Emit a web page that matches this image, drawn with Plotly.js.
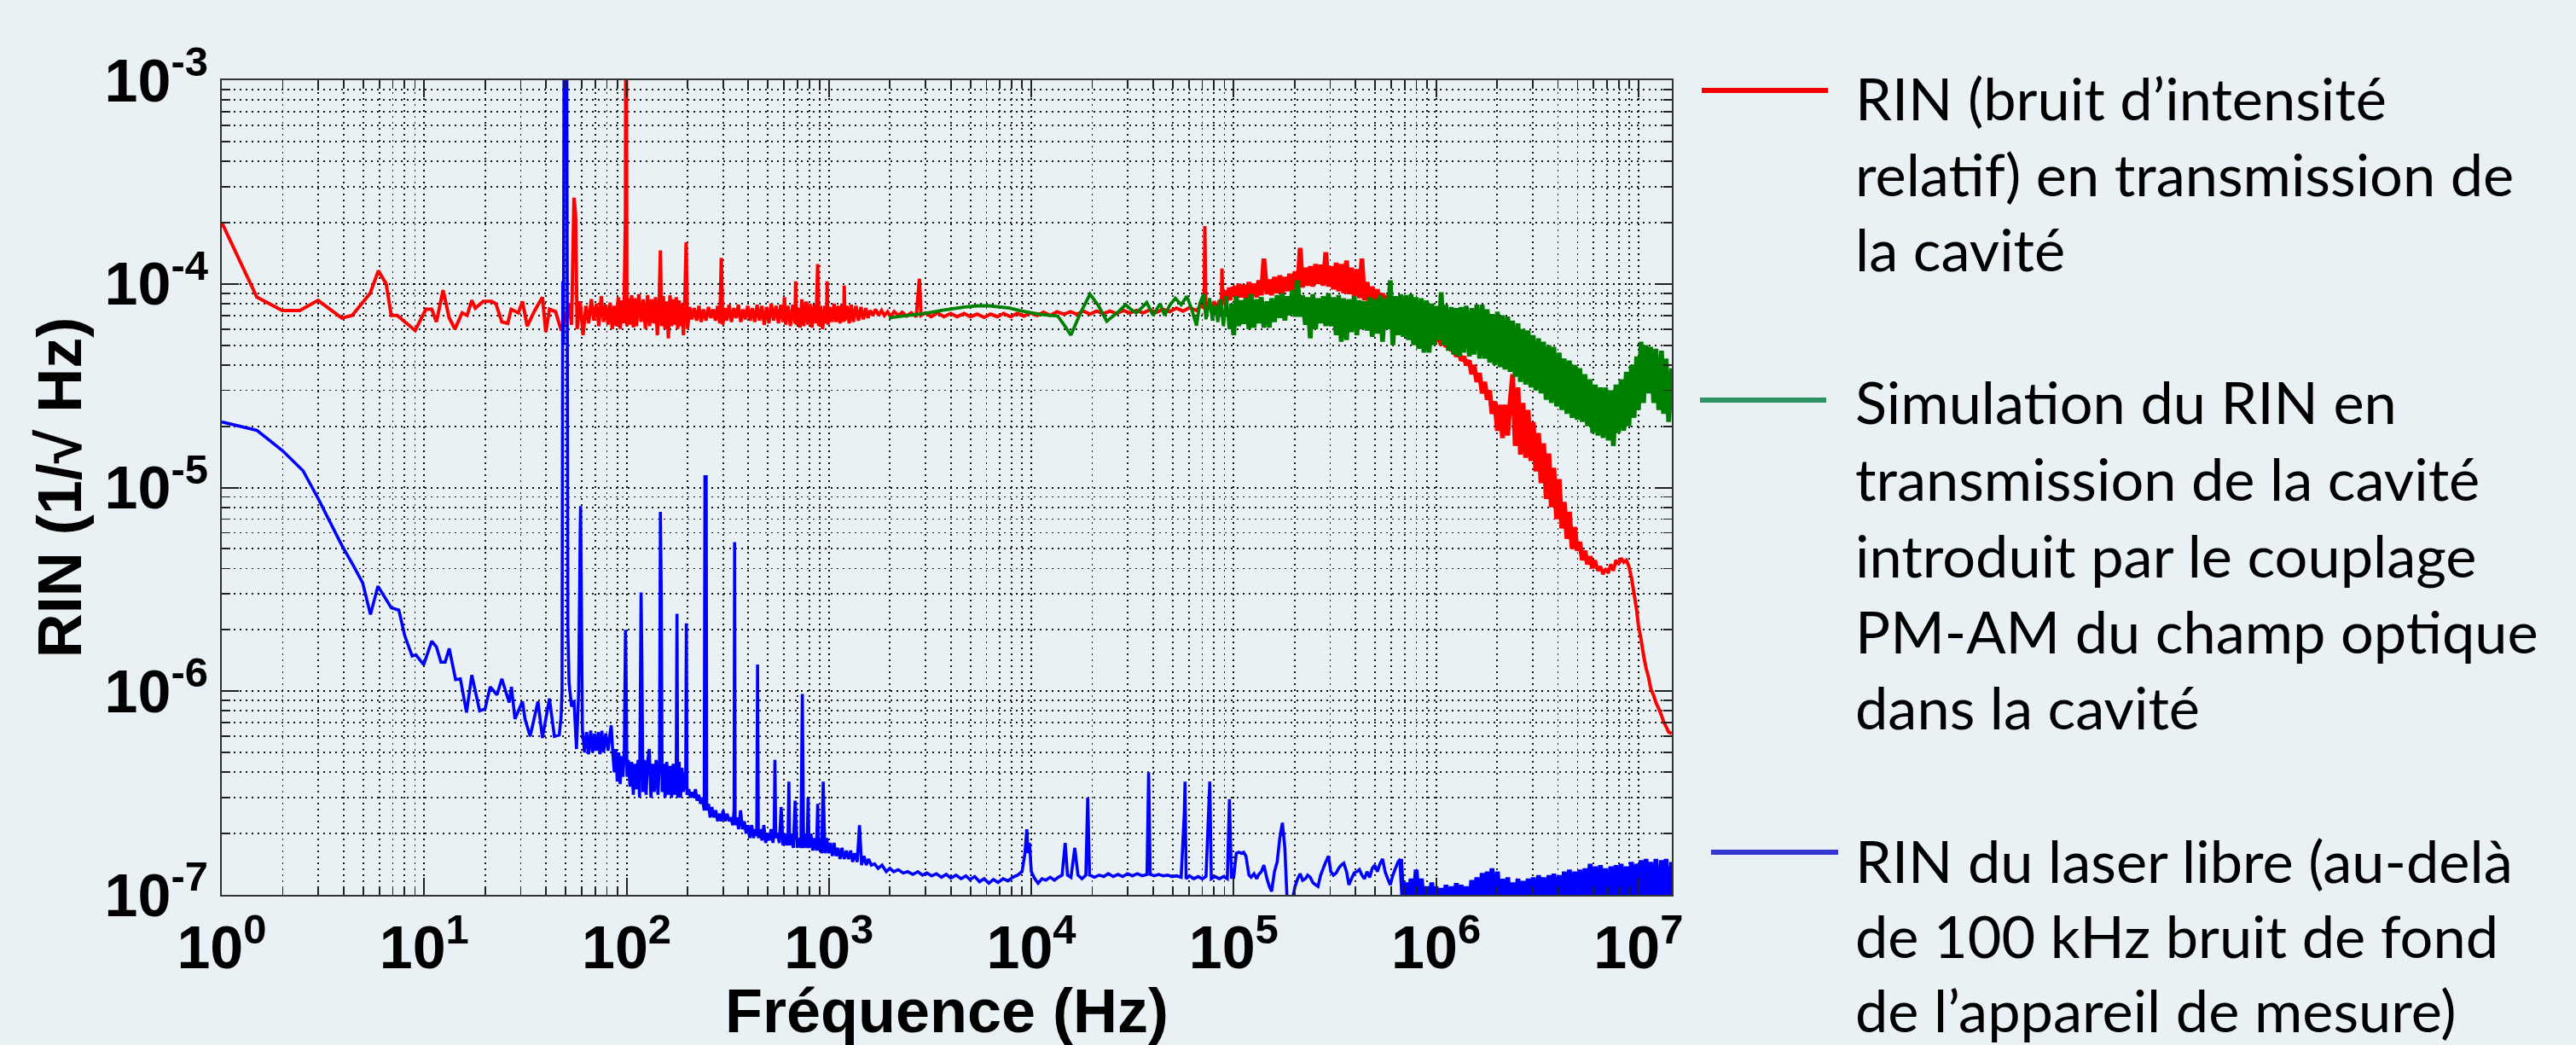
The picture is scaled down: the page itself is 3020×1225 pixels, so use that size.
<!DOCTYPE html>
<html>
<head>
<meta charset="utf-8">
<script src="https://cdn.plot.ly/plotly-3.0.1.min.js"></script>
<style>
html,body{margin:0;padding:0;background:#EAF1F5;}
#chart{width:3020px;height:1225px;}
</style>
</head>
<body>
<div id="chart"></div>
<script>
// ---------- axis ticks ----------
const xTickVals = [1, 10, 100, 1e3, 1e4, 1e5, 1e6, 1e7];
const xTickText = ['10<sup>0</sup>','10<sup>1</sup>','10<sup>2</sup>','10<sup>3</sup>','10<sup>4</sup>','10<sup>5</sup>','10<sup>6</sup>','10<sup>7</sup>'];
const yTickVals = [1e-7, 1e-6, 1e-5, 1e-4, 1e-3];
const yTickText = ['10<sup>-7</sup>','10<sup>-6</sup>','10<sup>-5</sup>','10<sup>-4</sup>','10<sup>-3</sup>'];

// ---------- series names / legend text ----------
const seriesNames = ['RIN en transmission de la cavité', 'Simulation du RIN', 'RIN du laser libre'];
const legendRed = ['RIN (bruit d’intensité', 'relatif) en transmission de', 'la cavité'];
const legendGreen = ['Simulation du RIN en', 'transmission de la cavité', 'introduit par le couplage', 'PM-AM du champ optique', 'dans la cavité'];
const legendBlue = ['RIN du laser libre (au-delà', 'de 100 kHz bruit de fond', 'de l’appareil de mesure)'];

// ---------- red : measured RIN in transmission, below 100 kHz [Hz, 1/sqrt(Hz)] ----------
const redLow = [[1,2.0e-4],[1.49,8.6e-5],[1.99,7.4e-5],[2.43,7.4e-5],[2.99,8.3e-5],[3.92,6.8e-5],[4.41,7.0e-5],[5.41,9.0e-5],[5.94,1.16e-4],[6.49,1.0e-4],[6.88,7.0e-5],[7.36,7.0e-5],[9.03,5.9e-5],[10.2,7.5e-5],[10.9,7.5e-5],[11.5,6.5e-5],[12.4,9.3e-5],[13.3,6.8e-5],[14.2,6.0e-5],[15.4,7.2e-5],[16.3,7.0e-5],[17.2,8.3e-5],[17.9,7.6e-5],[19.6,8.2e-5],[21.5,8.2e-5],[22.6,8.0e-5],[24.2,6.5e-5],[25.9,6.4e-5],[26.9,7.5e-5],[29.2,7.2e-5],[30.6,8.2e-5],[32.3,6.2e-5],[35.2,7.4e-5],[38.4,8.6e-5],[39.9,5.8e-5],[41.6,7.5e-5],[44.6,7.3e-5],[47.6,5.9e-5],
[48.5,6.2e-5],[52,8.0e-5],[53.5,6.3e-5],[55,2.65e-4],[56,2.2e-4],[57,6.0e-5],[59,8.2e-5],[61,5.6e-5],[63,7.8e-5],[65,6.4e-5],[67,8.4e-5],[69,6.6e-5],[71,8.0e-5],[73,6.2e-5],[75,8.7e-5],[77,6.5e-5],[79,7.9e-5],[81,6.3e-5],[83,8.1e-5],[85,6.0e-5],[87,7.8e-5],[89,6.2e-5],[91,8.6e-5],[93,6.0e-5],[95,8.3e-5],[97,6.4e-5],[98.8,2.2e-4],[99.2,2.0e-3],[99.8,2.0e-3],[100.4,6.2e-5],[102,8.5e-5],[104,6.3e-5],[106,8.8e-5],[108,6.1e-5],[110,8.5e-5],[112,6.2e-5],[115,8.9e-5],[118,6.5e-5],[121,8.4e-5],[124,6.0e-5],[127,8.8e-5],[130,6.2e-5],[133,8.4e-5],[136,6.4e-5],[139,8.6e-5],[142,5.6e-5],[145,8.2e-5],[147,1.46e-4],[149,6.2e-5],[152,8.7e-5],[155,6.0e-5],[158,8.2e-5],[161,5.4e-5],[164,8.8e-5],[167,6.2e-5],[170,8.4e-5],[173,6.3e-5],[176,8.6e-5],[179,6.0e-5],[182,8.3e-5],[185,6.2e-5],[188,8.0e-5],[191,5.6e-5],[194,8.2e-5],[197,1.6e-4],
[200,6.0e-5],[205,7.7e-5],[210,6.7e-5],[216,7.6e-5],[222,6.6e-5],[228,7.8e-5],[234,6.5e-5],[240,7.5e-5],[247,6.6e-5],[254,7.7e-5],[261,6.8e-5],[268,7.5e-5],[275,6.6e-5],[282,7.8e-5],[289,6.4e-5],[294,1.34e-4],[299,6.3e-5],[306,7.6e-5],[313,6.6e-5],[321,7.9e-5],[330,6.5e-5],[339,7.6e-5],[348,6.8e-5],[357,7.9e-5],[367,6.5e-5],[377,7.5e-5],[387,6.7e-5],[397,7.8e-5],[408,6.6e-5],[419,7.6e-5],[430,6.5e-5],[442,7.9e-5],[454,6.6e-5],[466,7.8e-5],[479,6.3e-5],[492,7.7e-5],[505,6.4e-5],[519,8.0e-5],[533,6.6e-5],[548,7.8e-5],[563,6.4e-5],[578,7.9e-5],[594,6.5e-5],[603,8.6e-5],[612,6.3e-5],[628,7.8e-5],[645,6.2e-5],[663,7.9e-5],[680,6.4e-5],[685,1.03e-4],[690,6.3e-5],[705,7.6e-5],[720,6.1e-5],[735,8.4e-5],[752,6.2e-5],[770,8.2e-5],[788,6.3e-5],[806,8.0e-5],[825,6.1e-5],[845,7.9e-5],[865,6.4e-5],[880,1.25e-4],[890,6.2e-5],[910,7.8e-5],[930,6.0e-5],[955,7.8e-5],[975,6.4e-5],[980,1.03e-4],[990,6.3e-5],[1010,7.7e-5],[1035,6.5e-5],[1060,8.0e-5],[1085,6.5e-5],[1110,7.8e-5],[1135,6.4e-5],[1160,8.0e-5],[1185,6.5e-5],[1190,9.8e-5],[1200,6.6e-5],[1230,7.8e-5],[1260,6.4e-5],[1290,7.9e-5],[1320,6.5e-5],[1360,7.8e-5],[1400,6.6e-5],[1440,7.7e-5],[1480,6.7e-5],[1520,7.6e-5],[1560,6.8e-5],
[1600,7.4e-5],[1650,7.0e-5],[1700,7.5e-5],[1760,7.0e-5],[1820,7.4e-5],[1880,7.0e-5],[1950,7.3e-5],[2020,6.9e-5],[2100,7.3e-5],[2200,7.0e-5],[2300,7.25e-5],[2420,6.95e-5],[2550,7.2e-5],[2700,6.9e-5],[2800,1.06e-4],[2850,7.0e-5],[3000,7.2e-5],[3200,6.9e-5],[3450,7.2e-5],[3700,6.9e-5],[4000,7.15e-5],[4300,6.9e-5],[4650,7.15e-5],[5000,6.9e-5],[5400,7.1e-5],[5850,6.85e-5],[6300,7.1e-5],[6800,6.9e-5],[7300,7.15e-5],[7900,6.9e-5],[8500,7.15e-5],[9200,6.95e-5],[9900,7.2e-5],[10700,7.0e-5],[11500,7.25e-5],[12400,7.0e-5],[13400,7.3e-5],[14500,7.1e-5],[15600,7.3e-5],[16800,7.1e-5],[18100,7.35e-5],[19500,7.1e-5],[21000,7.35e-5],[22700,7.15e-5],[24500,7.35e-5],[26400,7.15e-5],[28500,7.4e-5],[30700,7.2e-5],[33100,7.4e-5],[35700,7.2e-5],[38500,7.45e-5],[41500,7.25e-5],[44800,7.5e-5],[48300,7.3e-5],[52100,7.6e-5],[56200,7.35e-5],[60600,7.65e-5],[65300,7.4e-5],[69000,7.8e-5],[71500,7.6e-5],[72000,1.92e-4],[72800,7.7e-5],[75000,8.1e-5],[77500,7.5e-5],[80000,8.2e-5],[82500,7.6e-5],[85000,8.3e-5],[87000,7.7e-5],[87500,1.19e-4],[88500,7.9e-5],[90500,9.3e-5],[92500,8.1e-5],[94500,9.6e-5],[96500,8.3e-5],[98500,9.7e-5]];

// ---------- green : simulated RIN, below 100 kHz ----------
const greenLow = [[1980,6.8e-5],[2200,6.9e-5],[2500,7.0e-5],[2800,7.1e-5],[3200,7.25e-5],[3600,7.4e-5],[4100,7.55e-5],[4700,7.7e-5],[5400,7.8e-5],[6200,7.8e-5],[7000,7.7e-5],[7800,7.6e-5],[8700,7.4e-5],[9700,7.25e-5],[11000,7.1e-5],[12300,7.0e-5],[13500,6.95e-5],[14500,6.3e-5],[15700,5.6e-5],[17500,7.2e-5],[19500,8.9e-5],[21500,7.8e-5],[23600,6.55e-5],[26500,7.2e-5],[29300,7.9e-5],[31000,7.5e-5],[33000,7.2e-5],[35000,7.6e-5],[37200,8.1e-5],[40000,7.0e-5],[43300,8.0e-5],[45600,7.0e-5],[48500,7.9e-5],[51500,8.5e-5],[55000,7.9e-5],[58700,8.7e-5],[62000,7.5e-5],[65500,6.24e-5],[68000,8.0e-5],[71000,8.9e-5],[73000,6.7e-5],[76000,8.5e-5],[78500,6.6e-5],[81000,7.9e-5],[83500,6.5e-5],[86000,8.4e-5],[89000,6.2e-5],[92000,8.7e-5],[95000,6.0e-5],[97500,8.0e-5]];

// ---------- blue : free-running laser RIN, below 100 kHz ----------
const blueLow = [[1,2.1e-5],[1.49,1.91e-5],[1.99,1.52e-5],[2.52,1.21e-5],[2.99,8.85e-6],[3.92,5.2e-6],[4.49,4.1e-6],[4.97,3.4e-6],[5.43,2.38e-6],[5.91,3.28e-6],[6.88,2.57e-6],[7.5,2.5e-6],[8.02,1.87e-6],[8.72,1.49e-6],[9.1,1.51e-6],[9.95,1.35e-6],[10.9,1.76e-6],[11.5,1.65e-6],[12.1,1.39e-6],[12.7,1.39e-6],[13.3,1.62e-6],[14.3,1.14e-6],[15.1,1.15e-6],[16.2,7.86e-7],[17.2,1.2e-6],[18.8,8.0e-7],[20,8.2e-7],[21.2,1.05e-6],[22.9,9.6e-7],[24.2,1.15e-6],[26.3,8.8e-7],[27,1.05e-6],[28.1,7.3e-7],[30.6,8.9e-7],[31.5,7.3e-7],[33.4,6.0e-7],[36.5,8.9e-7],[38.4,5.9e-7],[41.6,9.2e-7],[44,6.0e-7],[46.5,6.1e-7],[47.5,7.5e-7],[48,1.0e-6],[48.4,1.03e-4],[48.8,5.0e-5],[49.2,3.0e-3],[50.6,3.0e-3],[51.3,2.0e-6],[52,1.1e-6],[53.5,8.4e-7],[55,9.0e-7],[56.6,5.2e-7],[58,1.0e-6],[59,6.0e-6],[59.3,8.1e-6],[59.8,3.0e-6],[60.5,6.5e-7],[62,5.0e-7],[63.5,6.3e-7],[65,4.9e-7],[66.5,6.4e-7],[68,5.0e-7],[69.5,6.2e-7],[71,5.1e-7],[72.5,6.3e-7],[74,4.9e-7],[75.5,6.4e-7],[77,5.0e-7],[79,6.2e-7],[81,5.1e-7],[82.5,6.0e-7],[84,6.8e-7],[85.5,5.0e-7],[87,4.0e-7],[88.5,5.2e-7],[90,3.6e-7],[91.5,5.0e-7],[93,3.5e-7],[94.5,4.8e-7],[96,3.8e-7],[97.5,5.0e-7],[98.8,2.0e-6],[99.5,1.2e-6],[100.5,3.8e-7],[102,4.6e-7],[104,3.4e-7],[106,4.5e-7],[108,3.1e-7],[110,4.4e-7],[112,3.3e-7],[114,4.6e-7],[116,3.0e-7],[118,3.05e-6],[119,1.5e-6],[120.5,3.2e-7],[122.5,4.6e-7],[125,3.1e-7],[127,4.5e-7],[129.5,5.2e-7],[132,3.0e-7],[134.5,4.4e-7],[137,3.2e-7],[140,4.6e-7],[143,3.1e-7],[145.5,4.5e-7],[147,7.6e-6],[148.5,3.0e-6],[150,3.2e-7],[152.5,4.4e-7],[155,3.0e-7],[158,4.5e-7],[161,3.1e-7],[164,4.3e-7],[167,3.0e-7],[170,4.4e-7],[173,3.1e-7],[176,4.0e-7],[177.5,2.4e-6],[179,3.0e-7],[182,4.5e-7],[185,3.0e-7],[188,4.2e-7],[191,3.2e-7],[194,4.0e-7],[196,3.3e-7],[197.5,2.15e-6],[199,3.1e-7],[203,3.3e-7],[207,3.0e-7],[211,3.2e-7],[215,3.0e-7],[219,3.3e-7],[223,2.9e-7],[227,3.1e-7],[232,2.8e-7],[237,3.0e-7],[242,2.6e-7],[244,1.15e-5],[246,3.0e-6],[247.5,1.15e-5],[249,2.6e-7],[254,2.8e-7],[259,2.4e-7],[264,2.7e-7],[270,2.4e-7],[276,2.6e-7],[282,2.3e-7],[288,2.5e-7],[294,2.3e-7],[300,2.6e-7],[307,2.3e-7],[314,2.5e-7],[321,2.3e-7],[328,2.4e-7],[335,2.2e-7],[340,2.6e-7],[342,5.4e-6],[344,2.2e-7],[350,2.4e-7],[358,2.1e-7],[366,2.6e-7],[374,2.1e-7],[382,2.3e-7],[390,2.0e-7],[398,2.2e-7],[406,1.9e-7],[415,2.2e-7],[424,1.9e-7],[433,2.1e-7],[440,1.95e-7],[444,1.35e-6],[448,1.9e-7],[457,2.1e-7],[467,1.85e-7],[477,2.2e-7],[487,1.8e-7],[497,2.0e-7],[507,1.85e-7],[518,2.1e-7],[529,1.8e-7],[536,2.0e-7],[541,4.6e-7],[546,1.9e-7],[557,2.0e-7],[569,1.8e-7],[581,2.7e-7],[593,1.75e-7],[605,2.0e-7],[618,1.75e-7],[628,1.9e-7],[634,3.6e-7],[640,1.75e-7],[653,2.0e-7],[667,1.7e-7],[681,2.9e-7],[697,1.7e-7],[712,1.9e-7],[727,1.7e-7],[739,9.7e-7],[750,1.7e-7],[765,2.0e-7],[780,1.7e-7],[789,3.0e-7],[798,1.7e-7],[815,2.0e-7],[832,1.65e-7],[850,1.9e-7],[868,1.65e-7],[880,2.8e-7],[890,1.65e-7],[905,1.9e-7],[920,1.6e-7],[937,3.6e-7],[955,1.6e-7],[975,1.9e-7],[995,1.6e-7],[1015,1.8e-7],[1040,1.55e-7],[1060,1.8e-7],[1085,1.55e-7],[1110,1.7e-7],[1135,1.5e-7],[1160,1.7e-7],[1190,1.5e-7],[1220,1.65e-7],[1250,1.5e-7],[1280,1.65e-7],[1310,1.45e-7],[1340,1.6e-7],[1380,1.45e-7],[1416,2.2e-7],[1450,1.4e-7],[1490,1.55e-7],[1530,1.4e-7],[1570,1.5e-7],[1620,1.4e-7],[1680,1.42e-7],[1750,1.35e-7],[1830,1.4e-7],[1920,1.3e-7],[2000,1.35e-7],[2090,1.3e-7],[2200,1.33e-7],[2330,1.28e-7],[2450,1.3e-7],[2600,1.26e-7],[2750,1.3e-7],[2900,1.25e-7],[3050,1.28e-7],[3220,1.24e-7],[3400,1.27e-7],[3600,1.22e-7],[3800,1.26e-7],[4000,1.21e-7],[4250,1.25e-7],[4500,1.2e-7],[4750,1.24e-7],[4970,1.19e-7],[5250,1.23e-7],[5550,1.16e-7],[5850,1.2e-7],[6170,1.14e-7],[6500,1.19e-7],[6850,1.15e-7],[7250,1.2e-7],[7670,1.17e-7],[8100,1.22e-7],[8550,1.25e-7],[9000,1.3e-7],[9300,1.6e-7],[9500,2.1e-7],[9650,1.6e-7],[9800,1.8e-7],[10000,1.3e-7],[10400,1.2e-7],[10800,1.14e-7],[11300,1.2e-7],[11800,1.18e-7],[12400,1.22e-7],[13000,1.18e-7],[13600,1.22e-7],[14200,1.25e-7],[14700,1.8e-7],[15100,1.25e-7],[15700,1.22e-7],[16400,1.7e-7],[17000,1.25e-7],[17800,1.2e-7],[18600,1.25e-7],[19000,3.0e-7],[19400,1.25e-7],[20500,1.22e-7],[21600,1.25e-7],[22800,1.23e-7],[24000,1.27e-7],[25400,1.23e-7],[26800,1.26e-7],[28300,1.23e-7],[29900,1.27e-7],[31600,1.24e-7],[33400,1.27e-7],[35300,1.24e-7],[37300,1.26e-7],[38000,4.0e-7],[38700,1.26e-7],[40500,1.24e-7],[42600,1.26e-7],[44800,1.24e-7],[47100,1.25e-7],[49600,1.23e-7],[52200,1.24e-7],[55000,1.22e-7],[57000,2.5e-7],[57500,3.6e-7],[58200,1.2e-7],[60500,1.24e-7],[63500,1.2e-7],[66700,1.23e-7],[70000,1.2e-7],[73000,1.23e-7],[76200,3.6e-7],[77500,1.2e-7],[81000,1.23e-7],[85000,1.2e-7],[89000,1.23e-7],[93000,1.2e-7],[95300,2.95e-7],[97500,1.22e-7]];

// ---------- common analyser frequency grid above 100 kHz [Hz] ----------
const fHi = [1.00e5,1.03e5,1.06e5,1.09e5,1.12e5,1.15e5,1.19e5,1.22e5,1.26e5,1.30e5,1.33e5,1.37e5,1.41e5,1.46e5,1.50e5,1.54e5,1.59e5,1.64e5,1.69e5,1.74e5,1.79e5,1.84e5,1.89e5,1.95e5,2.01e5,2.07e5,2.13e5,2.19e5,2.26e5,2.32e5,2.39e5,2.46e5,2.54e5,2.61e5,2.69e5,2.77e5,2.85e5,2.94e5,3.02e5,3.11e5,3.21e5,3.30e5,3.40e5,3.50e5,3.61e5,3.71e5,3.82e5,3.94e5,4.06e5,4.18e5,4.30e5,4.43e5,4.56e5,4.70e5,4.84e5,4.98e5,5.13e5,5.28e5,5.44e5,5.60e5,5.77e5,5.94e5,6.12e5,6.30e5,6.49e5,6.68e5,6.88e5,7.09e5,7.30e5,7.52e5,7.74e5,7.97e5,8.21e5,8.46e5,8.71e5,8.97e5,9.24e5,9.52e5,9.80e5,
1.00e6,1.03e6,1.06e6,1.09e6,1.12e6,1.15e6,1.19e6,1.22e6,1.26e6,1.30e6,1.33e6,1.37e6,1.41e6,1.46e6,1.50e6,1.54e6,1.59e6,1.64e6,1.69e6,1.74e6,1.79e6,1.84e6,1.89e6,1.95e6,2.01e6,2.07e6,2.13e6,2.19e6,2.26e6,2.32e6,2.39e6,2.46e6,2.54e6,2.61e6,2.69e6,2.77e6,2.85e6,2.94e6,3.02e6,3.11e6,3.21e6,3.30e6,3.40e6,3.50e6,3.61e6,3.71e6,3.82e6,3.94e6,4.06e6,4.18e6,4.30e6,4.43e6,4.56e6,4.70e6,4.84e6,4.98e6,5.13e6,5.28e6,5.44e6,5.60e6,5.77e6,5.94e6,6.12e6,6.30e6,6.49e6,6.68e6,6.88e6,7.09e6,7.30e6,7.52e6,7.74e6,7.97e6,8.21e6,8.46e6,8.71e6,8.97e6,9.24e6,9.52e6,9.80e6,
1.00e7,1.03e7,1.06e7,1.09e7,1.12e7,1.15e7,1.19e7,1.22e7,1.26e7,1.30e7,1.33e7,1.37e7,1.41e7,1.46e7];

const redHiV = [9.6e-5,8.5e-5,1.0e-4,8.6e-5,9.9e-5,8.4e-5,1.02e-4,8.7e-5,1.0e-4,8.6e-5,
1.04e-4,8.8e-5,1.33e-4,8.9e-5,1.05e-4,8.8e-5,1.08e-4,9.0e-5,1.1e-4,9.0e-5,
1.08e-4,9.2e-5,1.12e-4,9.3e-5,1.15e-4,9.5e-5,1.5e-4,9.6e-5,1.2e-4,9.8e-5,
1.22e-4,9.7e-5,1.25e-4,1.0e-4,1.24e-4,9.8e-5,1.43e-4,9.7e-5,1.22e-4,9.4e-5,
1.27e-4,9.2e-5,1.25e-4,9.0e-5,1.3e-4,8.9e-5,1.2e-4,8.7e-5,1.18e-4,8.5e-5,
1.33e-4,8.3e-5,1.02e-4,8.1e-5,9.7e-5,7.9e-5,9.4e-5,7.6e-5,9.0e-5,7.4e-5,
8.8e-5,7.2e-5,8.6e-5,7.0e-5,8.0e-5,6.6e-5,7.6e-5,6.3e-5,7.2e-5,6.1e-5,
6.9e-5,5.9e-5,6.6e-5,5.7e-5,6.3e-5,5.5e-5,6.1e-5,5.3e-5,5.9e-5,
5.2e-5,5.6e-5,5.0e-5,5.4e-5,4.9e-5,5.2e-5,4.7e-5,4.9e-5,4.4e-5,4.7e-5,
4.2e-5,4.4e-5,4.0e-5,4.2e-5,3.6e-5,4.0e-5,3.3e-5,3.65e-5,2.9e-5,3.3e-5,
2.7e-5,3.0e-5,2.3e-5,2.65e-5,1.9e-5,2.55e-5,1.75e-5,2.55e-5,1.8e-5,2.6e-5,
3.6e-5,1.6e-5,3.1e-5,1.45e-5,2.6e-5,1.4e-5,2.4e-5,1.35e-5,2.1e-5,1.2e-5,
1.85e-5,1.05e-5,1.65e-5,8.8e-6,1.47e-5,8.0e-6,1.25e-5,7.0e-6,1.1e-5,6.3e-6,
8.5e-6,5.6e-6,7.6e-6,5.0e-6,6.4e-6,4.9e-6,5.4e-6,4.4e-6,4.9e-6,4.2e-6,
4.6e-6,4.0e-6,4.4e-6,3.9e-6,4.1e-6,3.75e-6,4.0e-6,3.8e-6,4.2e-6,3.9e-6,
4.4e-6,4.2e-6,4.5e-6,4.3e-6,4.4e-6,4.1e-6,3.6e-6,3.0e-6,2.5e-6,2.1e-6,
1.8e-6,1.5e-6,1.3e-6,1.18e-6,1.03e-6,9.5e-7,8.8e-7,8.2e-7,7.6e-7,7.1e-7,
6.7e-7,6.3e-7,6.2e-7];

const greenHiV = [5.6e-5,8.7e-5,6.2e-5,8.3e-5,6.35e-5,8.5e-5,6.0e-5,8.9e-5,6.1e-5,8.4e-5,
6.4e-5,8.6e-5,6.1e-5,8.2e-5,6.1e-5,8.5e-5,6.5e-5,8.8e-5,6.8e-5,9.0e-5,
6.6e-5,8.7e-5,7.0e-5,9.3e-5,6.9e-5,1.04e-4,6.9e-5,8.8e-5,6.3e-5,8.6e-5,
5.4e-5,8.9e-5,6.0e-5,8.5e-5,6.4e-5,8.7e-5,6.2e-5,9.0e-5,6.2e-5,8.6e-5,
5.6e-5,8.8e-5,5.2e-5,8.5e-5,5.3e-5,8.4e-5,5.8e-5,8.7e-5,5.6e-5,8.3e-5,
6.0e-5,8.2e-5,5.9e-5,8.6e-5,5.5e-5,8.4e-5,5.7e-5,8.8e-5,5.2e-5,8.5e-5,
6.0e-5,1.04e-4,5.0e-5,8.7e-5,5.6e-5,8.9e-5,5.5e-5,8.8e-5,5.3e-5,8.9e-5,
5.0e-5,8.6e-5,4.8e-5,8.5e-5,4.6e-5,8.3e-5,4.6e-5,8.0e-5,5.0e-5,
7.8e-5,5.3e-5,9.1e-5,5.0e-5,7.9e-5,4.7e-5,7.7e-5,4.5e-5,7.6e-5,4.4e-5,
7.7e-5,4.6e-5,7.8e-5,4.4e-5,7.6e-5,4.5e-5,7.9e-5,4.3e-5,7.9e-5,4.3e-5,
7.5e-5,4.1e-5,7.1e-5,4.0e-5,7.3e-5,3.9e-5,7.0e-5,3.8e-5,6.9e-5,3.7e-5,
6.6e-5,3.5e-5,6.4e-5,3.3e-5,6.0e-5,3.2e-5,5.9e-5,3.1e-5,5.6e-5,3.0e-5,
5.4e-5,2.9e-5,5.2e-5,2.7e-5,5.0e-5,2.6e-5,4.9e-5,2.5e-5,4.6e-5,2.4e-5,
4.3e-5,2.3e-5,4.2e-5,2.2e-5,4.0e-5,2.15e-5,3.85e-5,2.1e-5,3.6e-5,2.0e-5,
3.4e-5,1.85e-5,3.2e-5,1.8e-5,3.1e-5,1.75e-5,3.1e-5,1.7e-5,3.0e-5,1.6e-5,
3.2e-5,1.85e-5,3.4e-5,1.9e-5,3.7e-5,2.0e-5,4.0e-5,2.2e-5,4.4e-5,2.4e-5,
5.2e-5,2.6e-5,5.0e-5,2.9e-5,4.9e-5,2.6e-5,4.8e-5,2.4e-5,4.7e-5,2.3e-5,
4.3e-5,2.1e-5,3.85e-5];

const blueHiV = [1.22e-7,1.6e-7,1.62e-7,1.6e-7,1.62e-7,1.55e-7,1.25e-7,1.22e-7,1.27e-7,1.2e-7,
1.26e-7,1.3e-7,1.4e-7,1.2e-7,1.1e-7,1.04e-7,1.3e-7,1.45e-7,1.9e-7,2.26e-7,
1.7e-7,9.0e-8,8.5e-8,9.5e-8,1.1e-7,1.2e-7,1.27e-7,1.18e-7,1.2e-7,1.25e-7,
1.22e-7,1.15e-7,1.12e-7,1.1e-7,1.25e-7,1.35e-7,1.45e-7,1.55e-7,1.3e-7,1.25e-7,
1.28e-7,1.35e-7,1.4e-7,1.43e-7,1.3e-7,1.12e-7,1.2e-7,1.28e-7,1.3e-7,1.33e-7,
1.25e-7,1.2e-7,1.3e-7,1.22e-7,1.35e-7,1.4e-7,1.3e-7,1.42e-7,1.5e-7,1.3e-7,
1.2e-7,1.12e-7,1.25e-7,1.35e-7,1.45e-7,1.5e-7,9e-8,1.15e-7,8.5e-8,1.2e-7,
8.5e-8,1.33e-7,9e-8,1.2e-7,8.5e-8,1.1e-7,8.5e-8,1.15e-7,8.5e-8,
1.1e-7,8.5e-8,1.08e-7,8.5e-8,1.12e-7,8.5e-8,1.1e-7,8.5e-8,1.14e-7,8.5e-8,
1.12e-7,8.5e-8,1.1e-7,8.5e-8,1.18e-7,8.5e-8,1.22e-7,8.5e-8,1.28e-7,8.5e-8,
1.3e-7,8.5e-8,1.35e-7,8.5e-8,1.3e-7,8.5e-8,1.2e-7,8.5e-8,1.22e-7,8.5e-8,
1.15e-7,8.5e-8,1.2e-7,8.5e-8,1.17e-7,8.5e-8,1.2e-7,8.5e-8,1.22e-7,8.5e-8,
1.25e-7,8.5e-8,1.22e-7,8.5e-8,1.25e-7,8.5e-8,1.27e-7,8.5e-8,1.25e-7,8.5e-8,
1.3e-7,8.5e-8,1.33e-7,8.5e-8,1.3e-7,8.5e-8,1.33e-7,8.5e-8,1.35e-7,8.5e-8,
1.42e-7,8.5e-8,1.38e-7,8.5e-8,1.4e-7,8.5e-8,1.35e-7,8.5e-8,1.38e-7,8.5e-8,
1.4e-7,8.5e-8,1.42e-7,8.5e-8,1.38e-7,8.5e-8,1.45e-7,8.5e-8,1.42e-7,8.5e-8,
1.48e-7,8.5e-8,1.5e-7,8.5e-8,1.45e-7,8.5e-8,1.5e-7,8.5e-8,1.48e-7,8.5e-8,
1.5e-7,8.5e-8,1.45e-7];

// ---------- build traces ----------
function xs(p){return p.map(function(d){return d[0];});}
function ys(p){return p.map(function(d){return d[1];});}

const redX = xs(redLow).concat(fHi), redY = ys(redLow).concat(redHiV);
const greenX = xs(greenLow).concat(fHi), greenY = ys(greenLow).concat(greenHiV);
const blueX = xs(blueLow).concat(fHi), blueY = ys(blueLow).concat(blueHiV);
const nR = redLow.length, nG = greenLow.length, nB = blueLow.length;

// a series may be drawn in consecutive pieces (dense noisy parts get a wider stroke)
function piece(name, X, Y, a, b, color, width){
  return {type:'scatter', mode:'lines', name:name, showlegend:false,
    x:X.slice(a, b), y:Y.slice(a, b), line:{color:color, width:width, simplify:false}};
}
const traces = [
  piece(seriesNames[0], redX, redY, 0, nR, '#FF0000', 4.0),
  piece(seriesNames[0], redX, redY, nR-1, nR+141, '#FF0000', 5.6),
  piece(seriesNames[0], redX, redY, nR+140, redX.length, '#FF0000', 4.0),
  piece(seriesNames[1], greenX, greenY, 0, nG, '#008000', 3.8),
  piece(seriesNames[1], greenX, greenY, nG-1, greenX.length, '#008000', 5.6),
  piece(seriesNames[2], blueX, blueY, 0, nB+66, '#0000FF', 3.6),
  piece(seriesNames[2], blueX, blueY, nB+65, blueX.length, '#0000FF', 5.6)
];

// ---------- layout helpers (pixel -> paper) ----------
const PL = 260, PR = 1960, PT = 94, PB = 1049;
function px(X){return (X - PL)/(PR - PL);}
function py(Y){return (PB - Y)/(PB - PT);}

const legendFont = {family:'Lato, "Open Sans", sans-serif', size:68.5, color:'#000'};
const annotations = [];
function addLines(lines, baselines){
  lines.forEach(function(t, k){
    annotations.push({xref:'paper', yref:'paper', x:px(2174), y:py(baselines[k]-26),
      xanchor:'left', yanchor:'middle', showarrow:false, align:'left', borderpad:0,
      text:t, font:legendFont});
  });
}
addLines(legendRed, [140,229,318]);
addLines(legendGreen, [497,586,676,765,854]);
addLines(legendBlue, [1034,1122,1209]);

const shapes = [
  {type:'line', xref:'paper', yref:'paper', x0:px(1995), x1:px(2143), y0:py(106), y1:py(106), line:{color:'#F20000', width:6}},
  {type:'line', xref:'paper', yref:'paper', x0:px(1993), x1:px(2141), y0:py(469), y1:py(469), line:{color:'#2E9466', width:6}},
  {type:'line', xref:'paper', yref:'paper', x0:px(2006), x1:px(2155), y0:py(999), y1:py(999), line:{color:'#3535D0', width:6}}
];

const tickFont = {family:'"Liberation Sans", Arial, sans-serif', size:70, color:'#000', weight:'bold'};
const titleFont = {family:'"Liberation Sans", Arial, sans-serif', size:72, color:'#000', weight:'bold'};
const axisCommon = {
  type:'log', showline:true, linecolor:'#333', linewidth:2, mirror:'ticks',
  ticks:'inside', ticklen:20, tickwidth:2, tickcolor:'#222',
  showgrid:true, gridcolor:'#000', gridwidth:2, griddash:'2px,5px',
  zeroline:false, tickmode:'array', tickfont:tickFont,
  minor:{ticks:'inside', ticklen:10, tickwidth:1.8, tickcolor:'#222', dtick:'D1',
         showgrid:true, gridcolor:'#1a1a1a', gridwidth:1.8, griddash:'2px,5px'}
};

const layout = {
  width:3020, height:1225,
  margin:{l:PL, r:3020-PR, t:PT, b:1225-PB},
  paper_bgcolor:'#EAF1F5', plot_bgcolor:'#EAF1F5',
  showlegend:false, hovermode:false,
  xaxis: Object.assign({}, axisCommon, {
    range:[0, 7.165], tickvals:xTickVals, ticktext:xTickText,
    title:{text:'Fréquence (Hz)', font:titleFont, standoff:2}
  }),
  yaxis: Object.assign({}, axisCommon, {
    range:[-7, -3], tickvals:yTickVals, ticktext:yTickText,
    title:{text:'RIN (1/√ Hz)', font:titleFont, standoff:3}
  }),
  annotations: annotations,
  shapes: shapes
};

Plotly.newPlot('chart', traces, layout, {staticPlot:true, displayModeBar:false});
</script>
</body>
</html>
